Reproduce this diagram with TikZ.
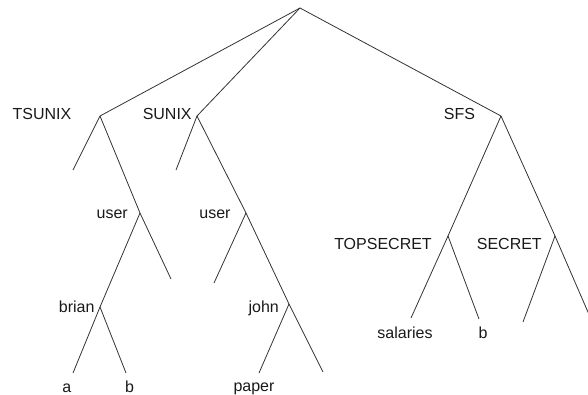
\documentclass[tikz,border=0pt]{standalone}
\usepackage{fontspec}
\setmainfont{Liberation Sans}
\begin{document}
\begin{tikzpicture}[x=1pt,y=-1pt,
  edge/.style={draw=black!80,line width=0.8pt},
  lbl/.style={anchor=base,inner sep=0pt,text=black!90,font=\fontsize{16}{19}\selectfont}]
\useasboundingbox (0,0) rectangle (588,394);
\begin{scope}
\clip (0,0) rectangle (588,394);
% branch points
\coordinate (root) at (300,8);
\coordinate (ts) at (100,116);
\coordinate (su) at (197,116);
\coordinate (sfs) at (501,116);
\coordinate (tsuser) at (140,213);
\coordinate (suuser) at (246,213);
\coordinate (brian) at (100,307);
\coordinate (john) at (289,304);
\coordinate (top) at (448,236);
\coordinate (sec) at (555,236);
% leaf ends
\coordinate (tsl) at (73,170);
\coordinate (tsuserr) at (171,279);
\coordinate (la) at (73,373);
\coordinate (lb) at (126,373);
\coordinate (sul) at (176,170);
\coordinate (suuserl) at (214,283);
\coordinate (lpaper) at (259,373);
\coordinate (johnr) at (323,372);
\coordinate (lsal) at (411,318);
\coordinate (lb2) at (479,319);
\coordinate (secl) at (523,322);
\coordinate (secr) at (594,326);
% labels
\node[lbl] (tTS) at (42,119.3) {TSUNIX};
\node[lbl] (tSU) at (167.2,119.3) {SUNIX};
\node[lbl] (tSFS) at (459.5,119.3) {SFS};
\node[lbl] (tU1) at (112.2,218) {user};
\node[lbl] (tU2) at (215,218) {user};
\node[lbl] (tBr) at (76.7,312) {brian};
\node[lbl] (tJo) at (263.7,312) {john};
\node[lbl] (tA) at (66.7,392) {a};
\node[lbl] (tB) at (129.5,392) {b};
\node[lbl] (tPa) at (254,391.5) {paper};
\node[lbl] (tTop) at (383,249.3) {TOPSECRET};
\node[lbl] (tSec) at (509.3,249.3) {SECRET};
\node[lbl] (tSal) at (405,338) {salaries};
\node[lbl] (tB2) at (483,338) {b};
% edges
\draw[edge] (root) -- (ts);
\draw[edge] (root) -- (su);
\draw[edge] (root) -- (sfs);
\draw[edge] (ts) -- (tsl);
\draw[edge] (ts) -- (tsuser);
\draw[edge] (tsuser) -- (brian);
\draw[edge] (tsuser) -- (tsuserr);
\draw[edge] (brian) -- (la);
\draw[edge] (brian) -- (lb);
\draw[edge] (su) -- (sul);
\draw[edge] (su) -- (suuser);
\draw[edge] (suuser) -- (suuserl);
\draw[edge] (suuser) -- (john);
\draw[edge] (john) -- (lpaper);
\draw[edge] (john) -- (johnr);
\draw[edge] (sfs) -- (top);
\draw[edge] (sfs) -- (sec);
\draw[edge] (top) -- (lsal);
\draw[edge] (top) -- (lb2);
\draw[edge] (sec) -- (secl);
\draw[edge] (sec) -- (secr);
\end{scope}
\end{tikzpicture}
\end{document}
